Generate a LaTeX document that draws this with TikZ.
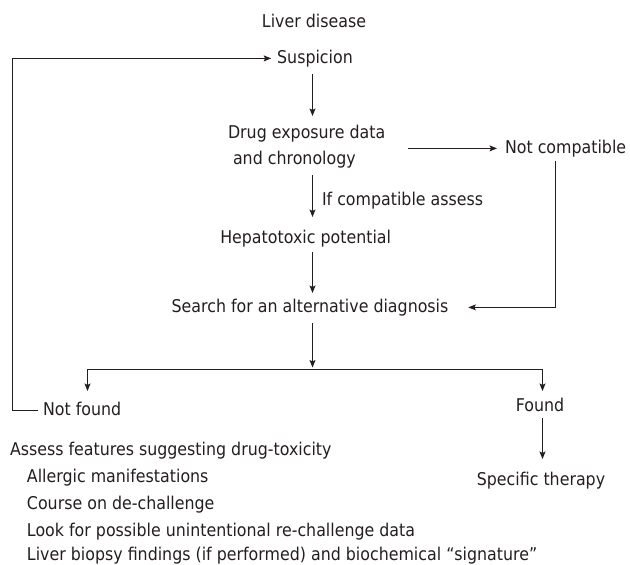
\documentclass[tikz,border=0pt]{standalone}
\usepackage{fontspec}
\setmainfont[FakeStretch=0.9]{DejaVu Sans}
\usetikzlibrary{arrows.meta}
\definecolor{ink}{HTML}{231F20}
\begin{document}
\begin{tikzpicture}[x=1pt,y=-1pt,
  every node/.style={inner sep=0pt, outer sep=0pt, text=ink,
    font=\fontsize{17.6}{21}\selectfont, text height=13.4pt, text depth=4.2pt},
  conn/.style={draw=ink, line width=1.1pt},
  arr/.style={conn, -{Stealth[length=7.5pt,width=6pt,inset=1.5pt]}}]
\useasboundingbox (0,0) rectangle (630,565);

% named guide coordinates
\coordinate (spine) at (312.5,0);
\coordinate (loopx) at (12.5,0);
\coordinate (ncx) at (555.5,0);
\coordinate (br) at (312.5,369.5);
\coordinate (nfx) at (87.5,369.5);
\coordinate (fx) at (542.5,369.5);

% nodes
\node[anchor=base] (liver) at (314,27) {Liver disease};
\node[anchor=base] (susp) at (315,63) {Suspicion};
\node[anchor=base west] (drug1) at (228,138) {Drug exposure data};
\node[anchor=base west] (drug2) at (233,164) {and chronology};
\node[anchor=base west] (ifcomp) at (322,205) {If compatible assess};
\node[anchor=base east] (hepato) at (391,243) {Hepatotoxic potential};
\node[anchor=base] (search) at (310,312) {Search for an alternative diagnosis};
\node[anchor=base west] (notcomp) at (505,153) {Not compatible};
\node[anchor=base west] (notfound) at (43,415) {Not found};
\node[anchor=base] (found) at (540,411) {Found};
\node[anchor=base] (specific) at (541,485) {Specific therapy};
\node[anchor=base west] (assess) at (10,455) {Assess features suggesting drug-toxicity};
\node[anchor=base west] (item1) at (27,482.5) {Allergic manifestations};
\node[anchor=base west] (item2) at (27,509.5) {Course on de-challenge};
\node[anchor=base west] (item3) at (27,536.5) {Look for possible unintentional re-challenge data};
\node[anchor=base west] (item4) at (27,560.5) {Liver biopsy findings (if performed) and biochemical “signature”};

% connectors
\draw[arr, shorten <=6.8pt, shorten >=8.6pt] (susp.south -| spine) -- (drug1.north -| spine);
\draw[arr, shorten <=6.8pt, shorten >=12.6pt] (drug2.south -| spine) -- (hepato.north -| spine);
\draw[arr, shorten <=4.8pt, shorten >=5.6pt] (hepato.south -| spine) -- (search.north -| spine);
\draw[arr, shorten <=23pt, shorten >=8pt] (notcomp.west -| drug1.east) -- (notcomp.west);
\draw[arr, shorten <=3.8pt, shorten >=20pt] (notcomp.south -| ncx) -- (ncx |- search.east) -- (search.east);
\draw[arr, shorten <=6.8pt, shorten >=2pt] (search.south -| spine) -- (br);
\draw[arr, shorten >=10.6pt] (br) -- (nfx) -- (nfx |- notfound.north);
\draw[arr, shorten >=6.6pt] (br) -- (fx) -- (fx |- found.north);
\draw[arr, shorten <=2.8pt, shorten >=12.6pt] (fx |- found.south) -- (fx |- specific.north);
\draw[arr, shorten <=5pt, shorten >=6pt] (notfound.west) -- (notfound.west -| loopx) -- (loopx |- susp.west) -- (susp.west);
\end{tikzpicture}
\end{document}
